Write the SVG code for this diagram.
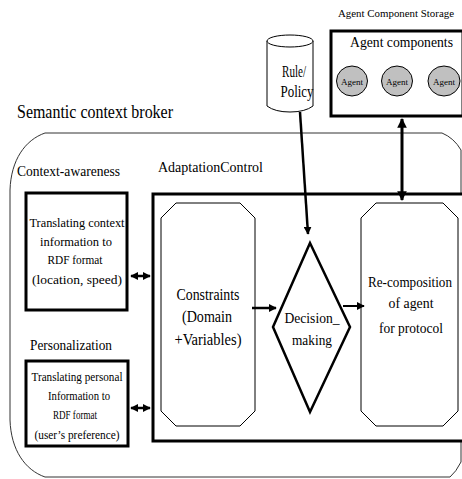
<svg xmlns="http://www.w3.org/2000/svg" width="462" height="479" viewBox="0 0 462 479">
<defs>
<marker id="ah" viewBox="0 0 10 10" refX="9" refY="5" markerWidth="3.2" markerHeight="3.2" orient="auto-start-reverse" markerUnits="strokeWidth">
<path d="M0,0 L10,5 L0,10 Z" fill="#000"/>
</marker>
<marker id="ahs" viewBox="0 0 10 10" refX="9" refY="5" markerWidth="4" markerHeight="4" orient="auto-start-reverse" markerUnits="strokeWidth">
<path d="M0,0 L10,5 L0,10 Z" fill="#000"/>
</marker>
</defs>
<style>
text{fill:#000;font-family:"Liberation Serif","DejaVu Serif",serif}
.c{text-anchor:middle}
.thick{fill:#fff;stroke:#000;stroke-width:3}
.con{stroke:#000;fill:none}
</style>
<rect width="462" height="479" fill="#fff"/>

<g id="broker">
<path d="M45,133 H442 Q454,138 461,150 V462 Q456,472 450,477 H45 C25,470 11,450 10,420 V190 C11,160 25,140 45,133 Z" fill="none" stroke="#333" stroke-width="1"/>
<text x="17" y="118" font-size="18" textLength="156" lengthAdjust="spacingAndGlyphs">Semantic context broker</text>
</g>

<g id="storage">
<text x="338" y="17" font-size="11" textLength="116" lengthAdjust="spacingAndGlyphs">Agent Component Storage</text>
<rect x="331" y="31" width="132" height="85" class="thick"/>
<text x="350" y="47" font-size="15" textLength="103" lengthAdjust="spacingAndGlyphs">Agent components</text>
</g>
<g id="agent1">
<ellipse cx="352" cy="81" rx="15.5" ry="15" fill="#c0c0c0" stroke="#000" stroke-width="1"/>
<text x="352" y="85" class="c" font-size="9" textLength="22" lengthAdjust="spacingAndGlyphs">Agent</text>
</g>
<g id="agent2">
<ellipse cx="397" cy="81" rx="15.5" ry="15" fill="#c0c0c0" stroke="#000" stroke-width="1"/>
<text x="397" y="85" class="c" font-size="9" textLength="22" lengthAdjust="spacingAndGlyphs">Agent</text>
</g>
<g id="agent3">
<ellipse cx="444" cy="81" rx="16" ry="15" fill="#c0c0c0" stroke="#000" stroke-width="1"/>
<text x="444" y="85" class="c" font-size="9" textLength="22" lengthAdjust="spacingAndGlyphs">Agent</text>
</g>

<g id="rule">
<path d="M267,41 V106 Q275,112 290,112 Q305,112 313,106 V41" fill="#fff" stroke="#000" stroke-width="1"/>
<ellipse cx="290" cy="41" rx="23" ry="6" fill="#fff" stroke="#000" stroke-width="1"/>
<text x="294" y="77" class="c" font-size="17" textLength="24" lengthAdjust="spacingAndGlyphs">Rule/</text>
<text x="297" y="97" class="c" font-size="17" textLength="33" lengthAdjust="spacingAndGlyphs">Policy</text>
</g>

<g id="context">
<text x="17" y="176" font-size="14" textLength="103" lengthAdjust="spacingAndGlyphs">Context-awareness</text>
<rect x="26" y="193" width="101" height="117" class="thick" stroke-width="2.5"/>
<text x="77" y="227" class="c" font-size="13.5" textLength="95" lengthAdjust="spacingAndGlyphs">Translating context</text>
<text x="76" y="246" class="c" font-size="13.5" textLength="72" lengthAdjust="spacingAndGlyphs">information to</text>
<text x="75" y="264" class="c" font-size="13.5" textLength="55" lengthAdjust="spacingAndGlyphs">RDF format</text>
<text x="77" y="284" class="c" font-size="13.5" textLength="90" lengthAdjust="spacingAndGlyphs">(location, speed)</text>
</g>

<g id="personal">
<text x="30" y="350" font-size="15" textLength="82" lengthAdjust="spacingAndGlyphs">Personalization</text>
<rect x="26" y="361" width="102" height="85" class="thick" stroke-width="2.5"/>
<text x="77" y="381" class="c" font-size="12.5" textLength="91" lengthAdjust="spacingAndGlyphs">Translating personal</text>
<text x="79" y="400" class="c" font-size="12.5" textLength="62" lengthAdjust="spacingAndGlyphs">Information to</text>
<text x="75" y="419" class="c" font-size="12.5" textLength="44" lengthAdjust="spacingAndGlyphs">RDF format</text>
<text x="77" y="439" class="c" font-size="12.5" textLength="85" lengthAdjust="spacingAndGlyphs">(user’s preference)</text>
</g>

<g id="adaptation">
<text x="158" y="172" font-size="14" textLength="105" lengthAdjust="spacingAndGlyphs">AdaptationControl</text>
<rect x="153" y="194" width="312" height="247" class="thick"/>
</g>

<g id="constraints">
<path d="M176,203 H240 L255,218 V411 L240,426 H176 L161,411 V218 Z" fill="#fff" stroke="#000" stroke-width="1" stroke-linejoin="round"/>
<text x="208" y="300" class="c" font-size="16" textLength="63" lengthAdjust="spacingAndGlyphs">Constraints</text>
<text x="207" y="322" class="c" font-size="16" textLength="50" lengthAdjust="spacingAndGlyphs">(Domain</text>
<text x="208" y="345" class="c" font-size="16" textLength="67" lengthAdjust="spacingAndGlyphs">+Variables)</text>
</g>

<g id="decision">
<polygon points="310,243 350,327 310,412 273,327" fill="#fff" stroke="#000" stroke-width="2.5" stroke-linejoin="miter"/>
<text x="312" y="323" class="c" font-size="15" textLength="55" lengthAdjust="spacingAndGlyphs">Decision_</text>
<text x="312" y="345" class="c" font-size="15" textLength="40" lengthAdjust="spacingAndGlyphs">making</text>
</g>

<g id="recomposition">
<path d="M376,203 H443 L458,218 V411 L443,426 H376 L361,411 V218 Z" fill="#fff" stroke="#000" stroke-width="1" stroke-linejoin="round"/>
<text x="410" y="287" class="c" font-size="14.5" textLength="84" lengthAdjust="spacingAndGlyphs">Re-composition</text>
<text x="411" y="308" class="c" font-size="15.5" textLength="45" lengthAdjust="spacingAndGlyphs">of agent</text>
<text x="411" y="333" class="c" font-size="15.5" textLength="64" lengthAdjust="spacingAndGlyphs">for protocol</text>
</g>

<g id="connectors">
<line x1="300" y1="112" x2="308" y2="234" class="con" stroke-width="2.5" marker-end="url(#ah)"/>
<line x1="402" y1="119" x2="402" y2="200" class="con" stroke-width="3" marker-start="url(#ah)" marker-end="url(#ah)"/>
<line x1="131" y1="276" x2="150" y2="276" class="con" stroke-width="2.5" marker-start="url(#ah)" marker-end="url(#ah)"/>
<line x1="131" y1="408" x2="150" y2="408" class="con" stroke-width="2.5" marker-start="url(#ah)" marker-end="url(#ah)"/>
<line x1="252" y1="308" x2="276" y2="308" class="con" stroke-width="2.5" marker-end="url(#ah)"/>
<line x1="343" y1="306" x2="364" y2="306" class="con" stroke-width="2" marker-end="url(#ahs)"/>
</g>
</svg>
